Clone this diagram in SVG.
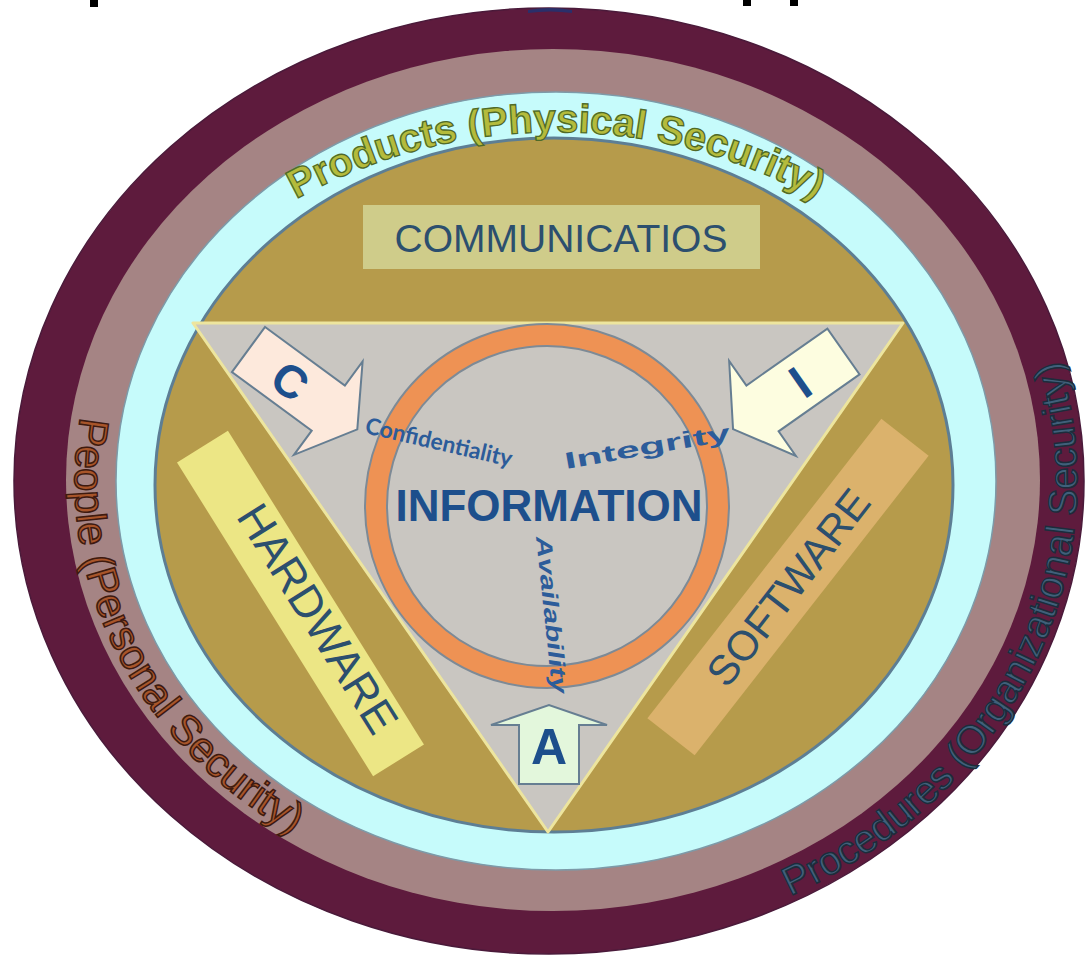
<svg xmlns="http://www.w3.org/2000/svg" width="1086" height="961" viewBox="0 0 1086 961">
<style>
.lbl{font-family:"Liberation Sans",Arial,sans-serif}
.box{font-family:"Liberation Sans",Arial,sans-serif;fill:#2c4f6e}
.big{font-family:"Liberation Sans",Arial,sans-serif;font-weight:bold;fill:#1d4f8c}
.arrow{stroke:#667e92;stroke-width:2}
.cia{font-family:"Liberation Sans",Arial,sans-serif;font-weight:bold;fill:#2c5c9a}
</style>
<defs>
<path id="pProducts" d="M 295 199.7 A 537 537 0 0 1 817 199.7"/>
<path id="pPeople" d="M 80.4 417 A 478 420 0 0 0 430 887"/>
<path id="pProcedures" d="M 790 896 A 527 466 0 0 0 1027.5 284"/>
</defs>
<rect width="1086" height="961" fill="#ffffff"/>
<g id="cutoff-title">
<rect x="90" y="0" width="8" height="7" fill="#000"/>
<rect x="743" y="0" width="8" height="6" fill="#000"/>
<rect x="790" y="0" width="8" height="6" fill="#000"/>
</g>
<g id="ring-procedures">
<ellipse cx="549" cy="481" rx="535" ry="473" fill="#5e1b3d" stroke="#4a1a3a" stroke-width="1.5"/>
<path d="M528 10 Q550 6 572 10 L572 13 Q550 10 528 13 Z" fill="#2a2f6a"/>
</g>
<g id="ring-people">
<ellipse cx="553" cy="480" rx="487" ry="431" fill="#a58484"/>
</g>
<g id="ring-products">
<ellipse cx="556" cy="481" rx="440" ry="389" fill="#c6fbfb" stroke="#7d9aa8" stroke-width="1.5"/>
</g>
<g id="core">
<ellipse cx="554" cy="485" rx="399" ry="347" fill="#b69b4b" stroke="#5d7e94" stroke-width="3"/>
<polygon points="193,323 903,323 548,832" fill="#c9c6c1" stroke="#ede59e" stroke-width="3" stroke-linejoin="round"/>
</g>
<g id="communications">
<rect x="363" y="205" width="397" height="64" fill="#cfcc8a"/>
<text class="box" x="561" y="252" text-anchor="middle" font-size="39">COMMUNICATIOS</text>
</g>
<g id="hardware">
<g transform="translate(300.5,603.5) rotate(58)">
<rect x="-185" y="-30" width="370" height="60" fill="#ece685"/>
<text class="box" x="22" y="9" text-anchor="middle" font-size="45">HARDWARE</text>
</g>
</g>
<g id="software">
<g transform="translate(788,587) rotate(-52)">
<rect x="-190" y="-30" width="380" height="60" fill="#dbb26c"/>
<text class="box" x="0" y="15" text-anchor="middle" font-size="42">SOFTWARE</text>
</g>
</g>
<g id="information">
<circle cx="547" cy="506" r="182" fill="#ee9254" stroke="#7d8a96" stroke-width="2"/>
<circle cx="547" cy="506" r="160" fill="#c9c6c1" stroke="#7d8a96" stroke-width="2"/>
<text class="big" x="549" y="521" text-anchor="middle" font-size="44" fill="#1f5a96">INFORMATION</text>
</g>
<g id="confidentiality">
<g transform="translate(248.5,349.5) rotate(36.3)">
<path class="arrow" d="M0,-28 L99,-28 L99,-58 L135,0 L99,58 L99,28 L0,28 Z" fill="#fde9dc"/>
</g>
<text class="big" transform="translate(290,381) rotate(36)" x="0" y="16" text-anchor="middle" font-size="46">C</text>
<text class="cia" transform="translate(364,433) rotate(13)" font-size="23" textLength="150" lengthAdjust="spacingAndGlyphs" style="font-family:Lato,'Liberation Sans',sans-serif">Confidentiality</text>
</g>
<g id="integrity">
<g transform="translate(843.5,351.5) rotate(144.9)">
<path class="arrow" d="M0,-28 L99,-28 L99,-58 L135,0 L99,58 L99,28 L0,28 Z" fill="#fdfde0"/>
</g>
<text class="big" transform="translate(800,382) rotate(-35)" x="0" y="17" text-anchor="middle" font-size="48">I</text>
<text class="cia" transform="translate(566,469) rotate(-10)" font-size="23" textLength="168" lengthAdjust="spacingAndGlyphs">Integrity</text>
</g>
<g id="availability">
<path class="arrow" d="M519,784 L519,725 L491,725 L549,705 L607,725 L579,725 L579,784 Z" fill="#e3f7dc"/>
<text class="big" x="549" y="764" text-anchor="middle" font-size="50">A</text>
<text class="cia" transform="translate(536,537) rotate(84)" font-size="22" font-style="italic" textLength="158" lengthAdjust="spacingAndGlyphs">Availability</text>
</g>
<g id="ring-labels">
<text class="lbl" font-size="40" font-weight="bold" fill="#b4bb3c" stroke="#4f6a28" stroke-width="1.3"><textPath href="#pProducts" startOffset="50%" text-anchor="middle">Products (Physical Security)</textPath></text>
<text class="lbl" font-size="42" fill="#a8552a" stroke="#3e1a10" stroke-width="1.5"><textPath href="#pPeople" startOffset="0">People (Personal Security)</textPath></text>
<text class="lbl" font-size="40" fill="#40607a" stroke="#1c2c3c" stroke-width="1.5"><textPath href="#pProcedures" startOffset="0">Procedures (Organizational Security)</textPath></text>
</g>
</svg>
